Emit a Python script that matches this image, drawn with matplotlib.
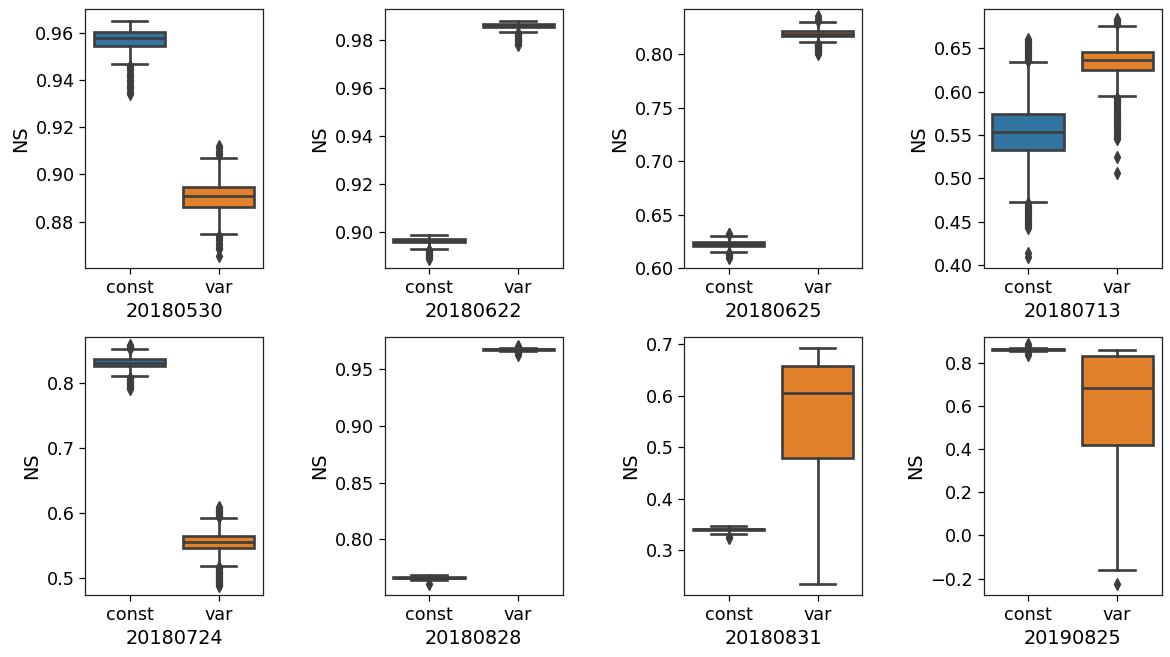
import matplotlib
matplotlib.use("Agg")
import matplotlib.pyplot as plt

# panel names and the two groups
dates = ['20180530', '20180622', '20180625', '20180713',
         '20180724', '20180828', '20180831', '20190825']
groups = ['const', 'var']

# box statistics, one entry per panel
const_whislo = [0.9469, 0.8929, 0.6150, 0.4731, 0.8107, 0.7640, 0.3323, 0.8545]
const_q1 = [0.9545, 0.8958, 0.6208, 0.5323, 0.8256, 0.7658, 0.3395, 0.8605]
const_med = [0.9576, 0.8966, 0.6226, 0.5535, 0.8310, 0.7663, 0.3410, 0.8615]
const_q3 = [0.9601, 0.8974, 0.6244, 0.5738, 0.8370, 0.7668, 0.3425, 0.8625]
const_whishi = [0.9651, 0.8988, 0.6305, 0.6338, 0.8522, 0.7685, 0.3470, 0.8700]
const_fliers = [
    [0.946, 0.945, 0.944, 0.943, 0.942, 0.941, 0.940, 0.939, 0.938, 0.937,
     0.936, 0.935, 0.934],
    [0.8925, 0.892, 0.8915, 0.891, 0.8905, 0.890, 0.8895, 0.889],
    [0.6325, 0.632, 0.614, 0.613, 0.612, 0.611, 0.610],
    [0.635, 0.637, 0.639, 0.641, 0.643, 0.645, 0.647, 0.649, 0.651, 0.653,
     0.655, 0.657, 0.659, 0.661,
     0.471, 0.469, 0.467, 0.465, 0.463, 0.461, 0.459, 0.457, 0.455, 0.453,
     0.451, 0.449, 0.447, 0.445, 0.443, 0.4135, 0.4095],
    [0.853, 0.855, 0.857, 0.859,
     0.808, 0.806, 0.804, 0.802, 0.800, 0.798, 0.796, 0.794, 0.792, 0.790],
    [0.7605],
    [0.327, 0.324],
    [0.887, 0.878, 0.845, 0.836],
]

var_whislo = [0.8746, 0.9835, 0.8111, 0.5946, 0.5174, 0.9663, 0.2355, -0.1615]
var_q1 = [0.8863, 0.9856, 0.8170, 0.6246, 0.5456, 0.9672, 0.4787, 0.420]
var_med = [0.8909, 0.9862, 0.8194, 0.6362, 0.5548, 0.9676, 0.6065, 0.6846]
var_q3 = [0.8948, 0.9868, 0.8218, 0.6462, 0.5635, 0.9680, 0.6581, 0.8308]
var_whishi = [0.9068, 0.9880, 0.8300, 0.6762, 0.5916, 0.9690, 0.6923, 0.857]
var_fliers = [
    [0.908, 0.909, 0.910, 0.911, 0.912,
     0.874, 0.873, 0.872, 0.871, 0.870, 0.869, 0.8685, 0.8655],
    [0.983, 0.9825, 0.982, 0.9815, 0.981, 0.9805, 0.980, 0.9795, 0.979,
     0.9785, 0.978],
    [0.836, 0.833, 0.831,
     0.810, 0.809, 0.808, 0.807, 0.806, 0.805, 0.804, 0.803, 0.802, 0.801,
     0.800],
    [0.678, 0.680, 0.682, 0.684,
     0.593, 0.591, 0.589, 0.587, 0.585, 0.583, 0.581, 0.579, 0.577, 0.575,
     0.573, 0.571, 0.569, 0.567, 0.565, 0.563, 0.561, 0.559, 0.557, 0.555,
     0.553, 0.551, 0.549, 0.547, 0.545, 0.525, 0.5065],
    [0.593, 0.595, 0.597, 0.599, 0.601, 0.603, 0.605, 0.607, 0.609,
     0.517, 0.515, 0.513, 0.511, 0.509, 0.507, 0.505, 0.503, 0.501, 0.499,
     0.497, 0.495, 0.493, 0.491, 0.489, 0.487],
    [0.9705, 0.9695, 0.9655, 0.9640, 0.9630],
    [],
    [-0.2262],
]

# y ranges of each panel as seen in the reference
y_lo = [0.8602, 0.8850, 0.600, 0.3962, 0.4729, 0.7508, 0.2129, -0.2769]
y_hi = [0.970, 0.9929, 0.8424, 0.6954, 0.8712, 0.9787, 0.7148, 0.92]

box_colors = ['#3274a1', '#e1812c']
line_gray = '#3d3d3d'

fig = plt.figure(figsize=(11.7, 6.57), dpi=100)

W, H = 1170.0, 657.0
col_left = [85, 384.5, 684, 983.5]
ax_w = 178.2
row_top = [9, 336.7]
ax_h = [259.3, 258.6]

for i, date in enumerate(dates):
    r, c = divmod(i, 4)
    left = col_left[c] / W
    bottom = 1 - (row_top[r] + ax_h[r]) / H
    ax = fig.add_axes([left, bottom, ax_w / W, ax_h[r] / H])

    stats = [
        dict(med=const_med[i], q1=const_q1[i], q3=const_q3[i],
             whislo=const_whislo[i], whishi=const_whishi[i],
             fliers=const_fliers[i]),
        dict(med=var_med[i], q1=var_q1[i], q3=var_q3[i],
             whislo=var_whislo[i], whishi=var_whishi[i],
             fliers=var_fliers[i]),
    ]
    lw = 1.9
    art = ax.bxp(stats, positions=[0, 1], widths=0.8, capwidths=0.4,
                 patch_artist=True, showfliers=True,
                 boxprops=dict(edgecolor=line_gray, linewidth=lw),
                 whiskerprops=dict(color=line_gray, linewidth=lw),
                 capprops=dict(color=line_gray, linewidth=lw),
                 medianprops=dict(color=line_gray, linewidth=lw),
                 flierprops=dict(marker='d', markersize=5.8,
                                 markerfacecolor=line_gray,
                                 markeredgecolor=line_gray))
    for patch, col in zip(art['boxes'], box_colors):
        patch.set_facecolor(col)

    ax.set_xlim(-0.5, 1.5)
    ax.set_ylim(y_lo[i], y_hi[i])
    ax.set_xticks([0, 1])
    ax.set_xticklabels(groups)
    ax.tick_params(labelsize=12.7, length=4, width=0.9)
    ax.set_ylabel('NS', fontsize=13.9)
    ax.set_xlabel(date, fontsize=13.9)
    for sp in ax.spines.values():
        sp.set_linewidth(0.9)
        sp.set_color('#222222')

fig.savefig('out.png', dpi=100)
